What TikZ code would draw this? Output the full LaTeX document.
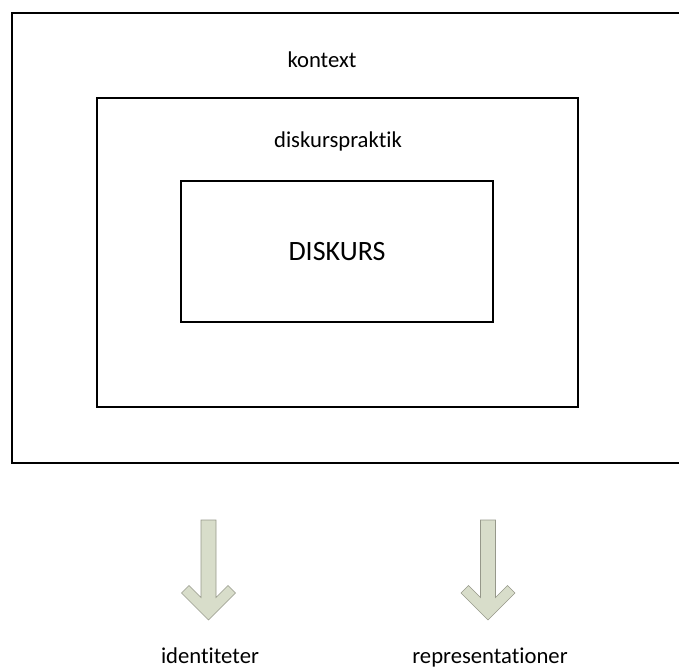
\documentclass[tikz,border=0pt]{standalone}
\usepackage{fontspec}
\setmainfont{Carlito}[Ligatures=NoCommon]
\usepackage{xcolor}
\usepackage{tikz}
\usetikzlibrary{positioning, calc}

\definecolor{pilfyll}{RGB}{216,221,202}
\definecolor{pilkant}{RGB}{150,152,138}

\tikzset{
	ram/.style={draw, line width=0.8pt, inner sep=0pt},
	etikett/.style={font=\fontsize{17}{20}\selectfont, inner sep=0pt},
	pil/.style={fill=pilfyll, draw=pilkant, line width=0.5pt, line join=miter}
}

% nedåtpil: toppen av skaftet i #1
\newcommand{\nedpil}[1]{
	\draw[pil] ($(#1)+(-7.5,0)$) -- ++(15,0) -- ++(0,77.5) -- ++(12,-12) -- ++(7.5,7.5)
		-- ++(-27,27) -- ++(-27,-27) -- ++(7.5,-7.5) -- ++(12,12) -- cycle;
}

\begin{document}
\begin{tikzpicture}[x=0.75pt, y=-0.75pt]
		\useasboundingbox (0,0) rectangle (679,670);

		% yttre ram, högerkanten utanför bilden
		\draw[line width=1.2pt] (679,13) -- (12,13) -- (12,463) -- (679,463);
		\node[etikett] (kontext) at (322,60) {kontext};

		\node[ram, minimum width=360.75pt, minimum height=231.75pt] (praktik) at (337.5,252.5) {};
		\node[etikett] (diskurspraktik) at (338,141) {diskurspraktik};

		\node[ram, minimum width=234pt, minimum height=105.75pt, font=\fontsize{21}{24}\selectfont] (diskurs) at (337,251.5) {DISKURS};

		\coordinate (pil1) at (208.5,520);
		\coordinate (pil2) at (488,520);
		\nedpil{pil1}
		\nedpil{pil2}

		\node[etikett, anchor=base] (identiteter) at (210,663) {identiteter};
		\node[etikett, anchor=base] (representationer) at (490,663) {representationer};
	\end{tikzpicture}
\end{document}
